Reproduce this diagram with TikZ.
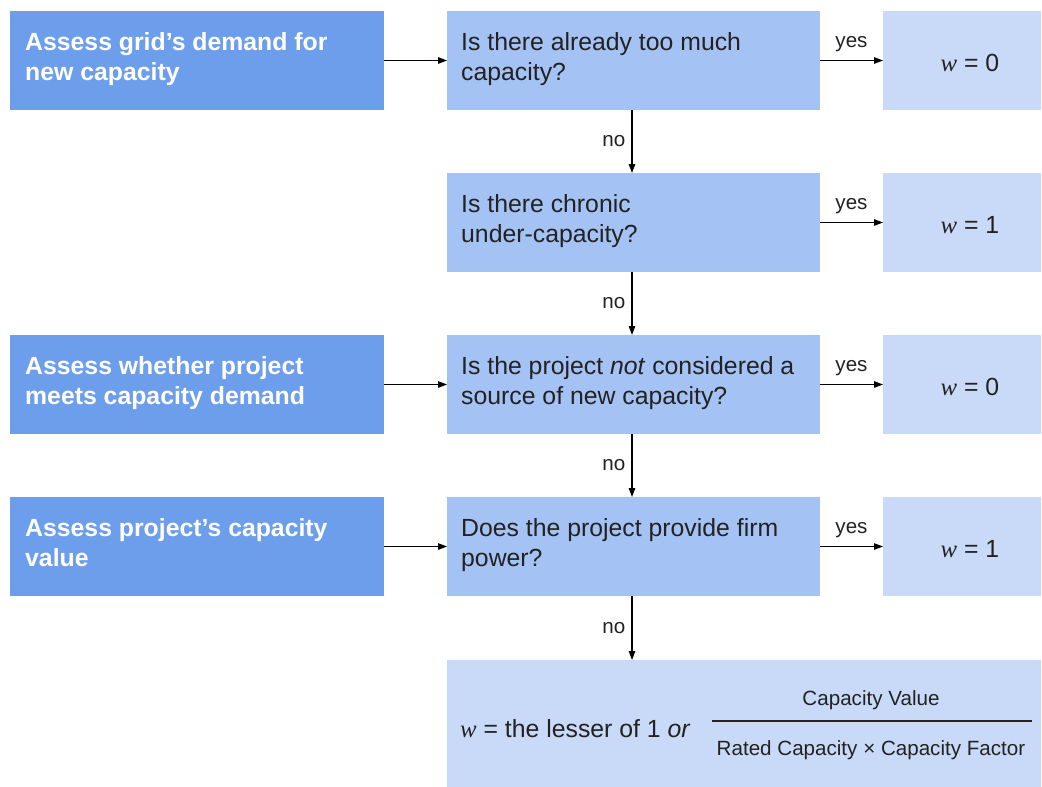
\documentclass[tikz,border=0pt]{standalone}
\usepackage{fontspec}
\setmainfont{Liberation Sans}
\newfontfamily\serifw{Liberation Serif}
\usetikzlibrary{arrows.meta}
\definecolor{darkb}{HTML}{6D9EEB}
\definecolor{midb}{HTML}{A4C2F4}
\definecolor{lightb}{HTML}{C9DAF8}
\definecolor{txt}{HTML}{222222}
\newcommand{\wvar}{{\serifw\itshape w}}
\begin{document}
\begin{tikzpicture}[x=1pt,y=-1pt,
  box/.style={inner sep=0pt, outer sep=0pt, minimum height=99pt, anchor=north west, draw=none},
  leftbox/.style={box, fill=darkb, minimum width=374pt},
  qbox/.style={box, fill=midb, minimum width=373pt},
  wbox/.style={box, fill=lightb, minimum width=158pt},
  maintxt/.style={font=\fontsize{24.8}{30}\selectfont, text=txt, align=left, anchor=north west, inner sep=0pt},
  lefttxt/.style={font=\bfseries\fontsize{24.8}{30}\selectfont, text=white, align=left, anchor=north west, inner sep=0pt},
  wtxt/.style={font=\fontsize{24.8}{30}\selectfont, text=txt, inner sep=0pt},
  lbl/.style={font=\fontsize{20.6}{24}\selectfont, text=txt, inner sep=0pt},
  arr/.style={-{Triangle[length=9pt,width=6.5pt]}, line width=1.2pt, draw=black},
]
\useasboundingbox[fill=white] (0,0) rectangle (1042,787);

% boxes
\node[leftbox] (L1) at (10,11) {};
\node[leftbox] (L3) at (10,335) {};
\node[leftbox] (L4) at (10,497) {};
\node[qbox] (Q1) at (447,11) {};
\node[qbox] (Q2) at (447,173) {};
\node[qbox] (Q3) at (447,335) {};
\node[qbox] (Q4) at (447,497) {};
\node[wbox] (W1) at (883,11) {};
\node[wbox] (W2) at (883,173) {};
\node[wbox] (W3) at (883,335) {};
\node[wbox] (W4) at (883,497) {};
\node[box, fill=lightb, minimum width=594pt, minimum height=127pt] (B) at (447,660) {};

% texts
\node[lefttxt] (L1t) at (25,32) {Assess grid’s demand for\\new capacity};
\node[lefttxt] (L3t) at (25,356) {Assess whether project\\meets capacity demand};
\node[lefttxt] (L4t) at (25,518) {Assess project’s capacity\\value};

\node[maintxt] (Q1t) at (461,32) {Is there already too much\\capacity?};
\node[maintxt] (Q2t) at (461,194) {Is there chronic\\under-capacity?};
\node[maintxt] (Q3t) at (461,356) {Is the project \textit{not} considered a\\source of new capacity?};
\node[maintxt] (Q4t) at (461,518) {Does the project provide firm\\power?};

\node[wtxt] (W1t) at (970,63) {\wvar{} = 0};
\node[wtxt] (W2t) at (970,225) {\wvar{} = 1};
\node[wtxt] (W3t) at (970,387) {\wvar{} = 0};
\node[wtxt] (W4t) at (970,549) {\wvar{} = 1};

\node[wtxt, anchor=base west] (Bt) at (460,737) {\wvar{} = the lesser of 1 \textit{or}};
\node[lbl, anchor=base] (num) at (871,705) {Capacity Value};
\node[lbl, anchor=base] (den) at (871,755) {Rated Capacity × Capacity Factor};
\coordinate (fl) at (712,721);
\coordinate (fr) at (1032,721);
\draw[line width=1.2pt, draw=txt] (fl) -- (fr);

% connectors
\draw[arr] (L1.east) -- (Q1.west);
\draw[arr] (L3.east) -- (Q3.west);
\draw[arr] (L4.east) -- (Q4.west);

\foreach \i in {1,2,3,4}{
  \draw[arr] (Q\i.east) -- node[lbl, above=8pt, pos=0.5] {yes} (W\i.west);
}
\draw[arr] ([xshift=-1.5pt]Q1.south) -- node[lbl, left=6pt] {no} ([xshift=-1.5pt]Q2.north);
\draw[arr] ([xshift=-1.5pt]Q2.south) -- node[lbl, left=6pt] {no} ([xshift=-1.5pt]Q3.north);
\draw[arr] ([xshift=-1.5pt]Q3.south) -- node[lbl, left=6pt] {no} ([xshift=-1.5pt]Q4.north);
\draw[arr] ([xshift=-1.5pt]Q4.south) -- node[lbl, left=6pt] {no} ([xshift=-1.5pt]Q4.south |- B.north);
\end{tikzpicture}
\end{document}
